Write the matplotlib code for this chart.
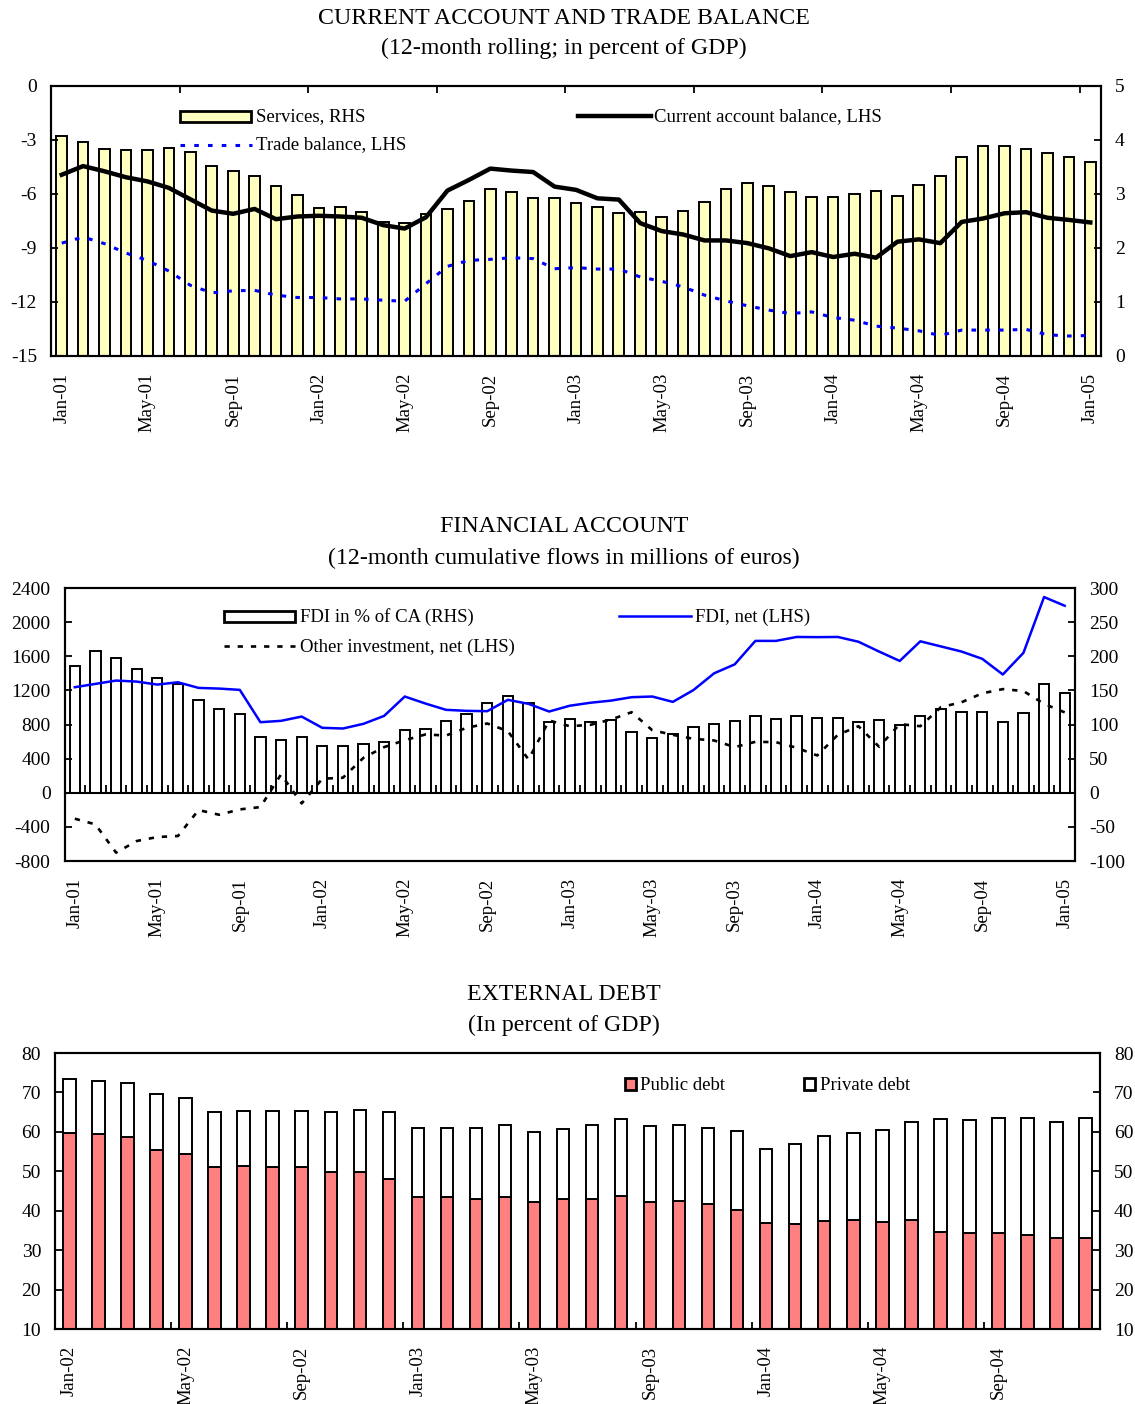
import numpy as np
import matplotlib
matplotlib.use("Agg")
import matplotlib.pyplot as plt
from matplotlib.patches import Rectangle
from matplotlib.lines import Line2D

plt.rcParams["font.family"] = ["Liberation Serif", "DejaVu Serif"]
plt.rcParams["axes.unicode_minus"] = False

# ---------------- data ----------------
monthly_labels = ["Jan-01", "May-01", "Sep-01", "Jan-02", "May-02", "Sep-02", "Jan-03",
                  "May-03", "Sep-03", "Jan-04", "May-04", "Sep-04", "Jan-05"]
debt_labels = ["Jan-02", "May-02", "Sep-02", "Jan-03", "May-03", "Sep-03",
               "Jan-04", "May-04", "Sep-04"]

# Current account and trade balance, Jan-01 .. Jan-05 (percent of GDP)
services = [4.08, 3.96, 3.83, 3.81, 3.81, 3.86, 3.78, 3.51, 3.42, 3.33, 3.15, 2.98, 2.74,
            2.76, 2.67, 2.48, 2.47, 2.63, 2.72, 2.87, 3.10, 3.03, 2.93, 2.92, 2.84, 2.75,
            2.64, 2.66, 2.58, 2.68, 2.85, 3.09, 3.20, 3.14, 3.03, 2.95, 2.94, 3.00, 3.05,
            2.96, 3.16, 3.33, 3.68, 3.89, 3.89, 3.83, 3.75, 3.68, 3.60]
current_account = [-4.93, -4.45, -4.74, -5.07, -5.30, -5.66, -6.29, -6.92, -7.10, -6.83,
                   -7.40, -7.25, -7.21, -7.25, -7.32, -7.73, -7.92, -7.29, -5.81, -5.22,
                   -4.59, -4.70, -4.78, -5.59, -5.77, -6.24, -6.31, -7.62, -8.06, -8.25,
                   -8.58, -8.58, -8.73, -9.02, -9.45, -9.23, -9.50, -9.32, -9.54, -8.65,
                   -8.52, -8.73, -7.55, -7.36, -7.07, -7.01, -7.32, -7.44, -7.58]
trade_balance = [-8.73, -8.39, -8.76, -9.28, -9.69, -10.28, -11.07, -11.49, -11.38, -11.35,
                 -11.62, -11.75, -11.75, -11.83, -11.83, -11.90, -11.96, -10.98, -10.02,
                 -9.69, -9.63, -9.54, -9.59, -10.15, -10.09, -10.17, -10.17, -10.61, -10.85,
                 -11.16, -11.62, -11.94, -12.21, -12.45, -12.64, -12.55, -12.86, -13.01,
                 -13.34, -13.45, -13.60, -13.86, -13.56, -13.56, -13.56, -13.52, -13.82,
                 -13.89, -13.86]

# Financial account, Jan-01 .. Jan-05
fdi_pct_ca = [185, 208, 198, 182, 168, 160, 136, 122, 115, 82, 77, 82, 69, 68, 72, 75, 92,
              93, 105, 115, 131, 142, 131, 103, 108, 103, 107, 89, 80, 86, 96, 101, 105,
              113, 108, 113, 109, 110, 103, 107, 99, 112, 122, 119, 118, 104, 117, 159, 146]
fdi_net = [1237, 1276, 1315, 1303, 1268, 1295, 1229, 1221, 1206, 827, 843, 893, 761, 753,
           808, 901, 1128, 1046, 972, 960, 956, 1089, 1042, 952, 1020, 1055, 1080, 1120,
           1128, 1065, 1204, 1400, 1505, 1780, 1780, 1826, 1824, 1826, 1770, 1655, 1545,
           1775, 1715, 1655, 1570, 1386, 1640, 2294, 2192]
other_investment = [-304, -371, -702, -566, -519, -507, -203, -258, -195, -168, 215, -125,
                    164, 176, 410, 535, 616, 683, 671, 761, 812, 722, 390, 847, 780, 796,
                    858, 944, 733, 679, 632, 613, 535, 597, 593, 527, 437, 679, 780, 539,
                    804, 780, 1003, 1061, 1165, 1215, 1192, 1042, 942]

# External debt, Jan-02 .. Dec-04 (percent of GDP)
public_debt = [59.7, 59.4, 58.7, 55.3, 54.3, 51.0, 51.4, 51.2, 51.0, 49.8, 49.7, 48.1,
               43.6, 43.6, 43.0, 43.6, 42.1, 42.9, 43.0, 43.8, 42.2, 42.4, 41.6, 40.2,
               36.9, 36.6, 37.3, 37.7, 37.1, 37.6, 34.7, 34.4, 34.3, 33.9, 33.2, 33.0]
private_debt = [13.7, 13.6, 13.8, 14.3, 14.4, 14.1, 14.0, 14.2, 14.4, 15.2, 15.9, 17.0,
                17.4, 17.5, 18.1, 18.2, 17.8, 17.7, 18.7, 19.4, 19.3, 19.4, 19.3, 20.1,
                18.8, 20.3, 21.7, 22.0, 23.3, 24.8, 28.5, 28.7, 29.2, 29.6, 29.4, 30.5]

# ---------------- figure helpers ----------------
W, H = 1135, 1404
fig = plt.figure(figsize=(W / 100, H / 100), dpi=100)

TICK_FS = 14
LEG_FS = 13.5
TITLE_FS = 17.2
EDGE_LW = 1.4
SPINE_LW = 1.5


def axes_px(left, top, right, bottom):
    return fig.add_axes([left / W, 1 - bottom / H, (right - left) / W, (bottom - top) / H])


def fig_text(x, y, s, **kw):
    fig.text(x / W, 1 - y / H, s, va="center", **kw)


def title(y1, y2, line1, line2):
    fig_text(564, y1, line1, ha="center", fontsize=TITLE_FS)
    fig_text(564, y2, line2, ha="center", fontsize=TITLE_FS)


def key_box(x0, x1, y0, y1, color):
    fig.add_artist(Rectangle((x0 / W, 1 - y1 / H), (x1 - x0) / W, (y1 - y0) / H,
                             transform=fig.transFigure, facecolor=color,
                             edgecolor="black", linewidth=EDGE_LW + 0.6))


def key_line(x0, x1, y, **kw):
    fig.add_artist(Line2D([x0 / W, x1 / W], [1 - y / H, 1 - y / H],
                          transform=fig.transFigure, **kw))


def style_axes(ax, ax2):
    for a in (ax, ax2):
        for sp in a.spines.values():
            sp.set_linewidth(SPINE_LW)
            sp.set_color("black")
    ax.tick_params(axis="y", direction="in", length=5, width=1.3, pad=10,
                   labelsize=TICK_FS)
    ax2.tick_params(axis="y", direction="in", length=5, width=1.3, pad=10,
                    labelsize=TICK_FS)
    ax.set_zorder(ax2.get_zorder() + 1)
    ax.patch.set_visible(False)


def month_axis(ax, n, labels):
    ax.set_xlim(-0.5, n - 0.5)
    ax.set_xticks(np.arange(0, n, 4))
    ax.set_xticklabels(labels, rotation=90, fontsize=13.5)
    ax.tick_params(axis="x", which="major", length=0, pad=12)


# ---------------- current account and trade balance ----------------
title(18, 48, "CURRENT ACCOUNT AND TRADE BALANCE", "(12-month rolling; in percent of GDP)")
ax = axes_px(51, 86, 1101, 356)
ax2 = ax.twinx()
x1 = np.arange(len(services))
ax2.bar(x1, services, width=0.5, color="#FFFFC0", edgecolor="black", linewidth=EDGE_LW)
ax.plot(x1, trade_balance, color="#0000FF", linewidth=2.2, linestyle=(0, (1.5, 3)))
ax.plot(x1, current_account, color="black", linewidth=3.2)
ax.set_ylim(-15, 0)
ax.set_yticks(np.arange(-15, 1, 3))
ax2.set_ylim(0, 5)
ax2.set_yticks(np.arange(0, 6, 1))
month_axis(ax, len(services), monthly_labels)
ax.set_xticks(np.arange(5.5, len(services) - 1, 6), minor=True)
ax.tick_params(axis="x", which="minor", bottom=False, top=True, direction="in",
               length=5, width=1.3)
style_axes(ax, ax2)

key_box(180, 251, 111, 122, "#FFFFC0")
fig_text(256, 117, "Services, RHS", fontsize=LEG_FS)
key_line(180, 252, 145, color="#0000FF", linewidth=2.2, linestyle=(0, (1.5, 3)))
fig_text(256, 145, "Trade balance, LHS", fontsize=LEG_FS)
key_line(578, 651, 116, color="black", linewidth=3.2)
fig_text(654, 117, "Current account balance, LHS", fontsize=LEG_FS)

# ---------------- financial account ----------------
title(527, 558, "FINANCIAL ACCOUNT", "(12-month cumulative flows in millions of euros)")
ax = axes_px(64.5, 588, 1075, 861)
ax2 = ax.twinx()
x2 = np.arange(len(fdi_pct_ca))
ax2.bar(x2, fdi_pct_ca, width=0.5, color="white", edgecolor="black", linewidth=EDGE_LW)
ax.plot(x2, other_investment, color="black", linewidth=1.9, linestyle=(0, (2, 3)))
ax.plot(x2, fdi_net, color="#0000FF", linewidth=1.8)
ax.set_ylim(-800, 2400)
ax.set_yticks(np.arange(-800, 2401, 400))
ax2.set_ylim(-100, 300)
ax2.set_yticks(np.arange(-100, 301, 50))
month_axis(ax, len(fdi_pct_ca), monthly_labels)
zero_axis = ax.secondary_xaxis(800 / 3200)
zero_axis.set_xticks(np.arange(0.5, len(fdi_pct_ca) - 1, 1))
zero_axis.tick_params(direction="in", length=6, width=1.3, labelbottom=False,
                      labeltop=False)
zero_axis.spines["bottom"].set_linewidth(SPINE_LW)
style_axes(ax, ax2)

key_box(224, 295, 611, 622, "white")
fig_text(300, 617, "FDI in % of CA (RHS)", fontsize=LEG_FS)
key_line(224, 295, 646, color="black", linewidth=1.9, linestyle=(0, (2, 3)))
fig_text(300, 647, "Other investment, net (LHS)", fontsize=LEG_FS)
key_line(619, 691, 616, color="#0000FF", linewidth=1.8)
fig_text(695, 617, "FDI, net (LHS)", fontsize=LEG_FS)

# ---------------- external debt ----------------
title(994, 1025, "EXTERNAL DEBT", "(In percent of GDP)")
ax = axes_px(55, 1053, 1100, 1329)
ax2 = ax.twinx()
x3 = np.arange(len(public_debt))
ax.bar(x3, public_debt, width=0.43, color="#FF8080", edgecolor="black", linewidth=EDGE_LW)
ax.bar(x3, private_debt, bottom=public_debt, width=0.43, color="white",
       edgecolor="black", linewidth=EDGE_LW)
ax.set_ylim(10, 80)
ax.set_yticks(np.arange(10, 81, 10))
ax2.set_ylim(10, 80)
ax2.set_yticks(np.arange(10, 81, 10))
month_axis(ax, len(public_debt), debt_labels)
ax.set_xticks(np.arange(3.5, len(public_debt) - 1, 4), minor=True)
ax.tick_params(axis="x", which="minor", bottom=True, direction="in", length=5, width=1.3)
style_axes(ax, ax2)

key_box(625, 636, 1078, 1090, "#FF8080")
fig_text(640, 1085, "Public debt", fontsize=LEG_FS)
key_box(804, 815, 1078, 1090, "white")
fig_text(820, 1085, "Private debt", fontsize=LEG_FS)

fig.savefig("out.png", dpi=100)
